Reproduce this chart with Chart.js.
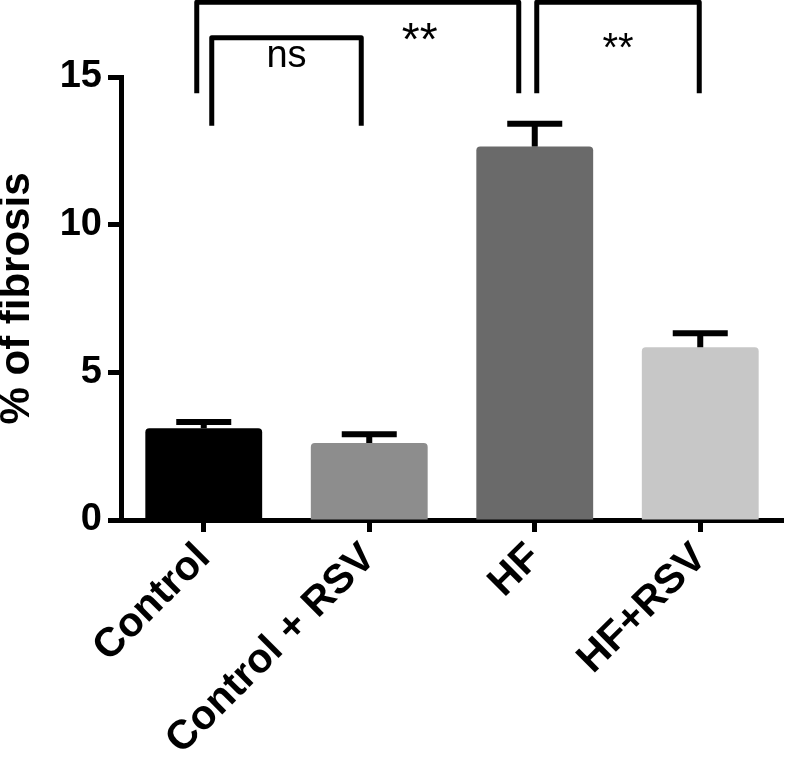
<!DOCTYPE html>
<html>
<head>
<meta charset="utf-8">
<script src="https://cdn.jsdelivr.net/npm/chart.js@4.4.0/dist/chart.umd.min.js"></script>
<style>
  html, body { margin: 0; padding: 0; background: #fff; }
  #wrap { width: 787px; height: 761px; }
</style>
</head>
<body>
<div id="wrap"><canvas id="chart" width="787" height="761"></canvas></div>
<script>
// --- Data ---
const groups   = ['Control', 'Control + RSV', 'HF', 'HF+RSV'];
const fibrosis = [3.11, 2.61, 12.65, 5.85];
const sem      = [0.21, 0.29, 0.77, 0.47];
const barColors = ['#000000', '#8d8d8d', '#6a6a6a', '#c7c7c7'];
const yTicks   = [0, 5, 10, 15];

// significance brackets: category indices, heights in y units, label
const brackets = [
  { from: 0, to: 2, top: 17.53, bottom: 14.45, label: '**', size: 46, dx: 62 },
  { from: 0, to: 1, top: 16.33, bottom: 13.35, label: 'ns', size: 38, dx: 0 },
  { from: 2, to: 3, top: 17.53, bottom: 14.45, label: '**', size: 40, dx: 0 }
];
const bracketInset = [[-7, -16], [8, -8], [2, -1]];

const FONT = '"Liberation Sans", Arial, Helvetica, sans-serif';

// --- Error bars (mean + SEM, upper only) ---
const errorBars = {
  id: 'errorBars',
  afterDatasetsDraw(chart) {
    const { ctx, scales: { x, y } } = chart;
    ctx.save();
    ctx.strokeStyle = '#000';
    ctx.lineWidth = 6;
    fibrosis.forEach((v, i) => {
      const px = x.getPixelForValue(i);
      const base = y.getPixelForValue(v);
      const top = y.getPixelForValue(v + sem[i]);
      ctx.beginPath();
      ctx.moveTo(px, base);
      ctx.lineTo(px, top);
      ctx.moveTo(px - 27.5, top);
      ctx.lineTo(px + 27.5, top);
      ctx.stroke();
    });
    ctx.restore();
  }
};

// --- Significance brackets ---
const sigBrackets = {
  id: 'sigBrackets',
  afterDraw(chart) {
    const { ctx, scales: { x, y } } = chart;
    ctx.save();
    ctx.strokeStyle = '#000';
    ctx.fillStyle = '#000';
    ctx.lineWidth = 5;
    ctx.lineJoin = 'round';
    brackets.forEach((b, k) => {
      const x1 = x.getPixelForValue(b.from) + bracketInset[k][0];
      const x2 = x.getPixelForValue(b.to) + bracketInset[k][1];
      const yt = y.getPixelForValue(b.top);
      const yb = y.getPixelForValue(b.bottom);
      ctx.beginPath();
      ctx.moveTo(x1, yb);
      ctx.lineTo(x1, yt);
      ctx.lineTo(x2, yt);
      ctx.lineTo(x2, yb);
      ctx.stroke();

      ctx.font = b.size + 'px ' + FONT;
      ctx.textAlign = 'center';
      ctx.textBaseline = 'alphabetic';
      const ty = b.label === 'ns' ? yt + 29 : yt + (b.size === 46 ? 53 : 59);
      ctx.fillText(b.label, (x1 + x2) / 2 + b.dx, ty);
    });
    ctx.restore();
  }
};

new Chart(document.getElementById('chart'), {
  type: 'bar',
  data: {
    labels: groups,
    datasets: [{
      data: fibrosis,
      backgroundColor: barColors,
      borderWidth: 0,
      borderRadius: 4,
      borderSkipped: 'bottom',
      categoryPercentage: 1,
      barPercentage: 0.706
    }]
  },
  options: {
    responsive: false,
    animation: false,
    layout: { padding: { top: 77, right: 4, left: 0, bottom: 0 } },
    plugins: {
      legend: { display: false },
      tooltip: { enabled: false }
    },
    scales: {
      x: {
        offset: true,
        afterFit: s => { s.height = 241; },
        grid: {
          offset: false,
          drawOnChartArea: false,
          drawTicks: true,
          tickLength: 12,
          tickWidth: 5,
          tickColor: '#000'
        },
        border: { display: true, color: '#000', width: 5 },
        ticks: {
          color: '#000',
          maxRotation: 45,
          minRotation: 45,
          autoSkip: false,
          padding: 2,
          font: { family: FONT, size: 41, weight: 'bold' }
        }
      },
      y: {
        min: 0,
        max: 15,
        afterFit: s => { s.width = 121; },
        afterBuildTicks: s => { s.ticks = yTicks.map(v => ({ value: v })); },
        grid: {
          drawOnChartArea: false,
          drawTicks: true,
          tickLength: 13,
          tickWidth: 5,
          tickColor: '#000'
        },
        border: { display: true, color: '#000', width: 5 },
        ticks: {
          color: '#000',
          padding: 6,
          font: { family: FONT, size: 38, weight: 'bold' }
        },
        title: {
          display: true,
          text: '% of fibrosis',
          color: '#000',
          padding: { top: -4, bottom: 0 },
          font: { family: FONT, size: 42, weight: 'bold', lineHeight: 1 }
        }
      }
    }
  },
  plugins: [errorBars, sigBrackets]
});
</script>
</body>
</html>
